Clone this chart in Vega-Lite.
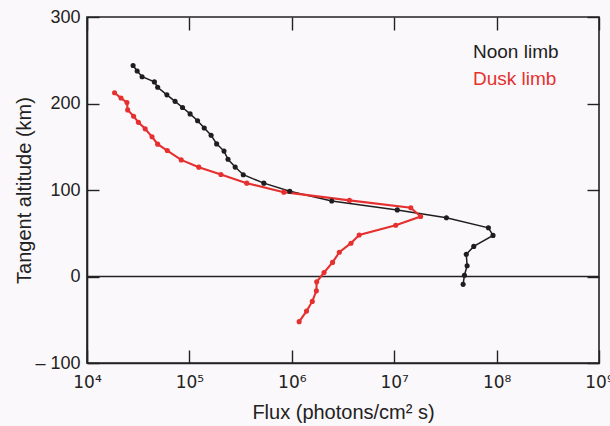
{
  "$schema": "https://vega.github.io/schema/vega-lite/v6.json",
  "width": 512,
  "height": 346,
  "autosize": {"type": "none"},
  "padding": {"left": 87, "top": 17, "right": 11, "bottom": 63},
  "background": "#fbf8fb",
  "config": {
    "view": {"stroke": "#222222", "strokeWidth": 1.6},
    "axis": {
      "domainColor": "#222222", "domainWidth": 1.6,
      "tickColor": "#222222", "tickWidth": 1.4,
      "grid": false,
      "labelFont": "Liberation Sans", "labelFontSize": 18, "labelColor": "#222222",
      "labelFlush": false, "labelOverlap": false,
      "titleFont": "Liberation Sans", "titleFontSize": 19, "titleFontWeight": "normal", "titleColor": "#222222"
    }
  },
  "datasets": {
    "profiles": [
      {"series": "Noon limb", "i": 1, "flux": 28180, "alt": 244},
      {"series": "Noon limb", "i": 2, "flux": 30900, "alt": 237.6},
      {"series": "Noon limb", "i": 3, "flux": 34510, "alt": 231},
      {"series": "Noon limb", "i": 4, "flux": 45500, "alt": 225},
      {"series": "Noon limb", "i": 5, "flux": 48980, "alt": 218.8},
      {"series": "Noon limb", "i": 6, "flux": 60260, "alt": 210},
      {"series": "Noon limb", "i": 7, "flux": 72440, "alt": 202.5},
      {"series": "Noon limb", "i": 8, "flux": 85700, "alt": 195.4},
      {"series": "Noon limb", "i": 9, "flux": 101600, "alt": 188},
      {"series": "Noon limb", "i": 10, "flux": 120200, "alt": 180},
      {"series": "Noon limb", "i": 11, "flux": 139600, "alt": 171.6},
      {"series": "Noon limb", "i": 12, "flux": 162900, "alt": 163.3},
      {"series": "Noon limb", "i": 13, "flux": 184500, "alt": 153.3},
      {"series": "Noon limb", "i": 14, "flux": 217800, "alt": 145},
      {"series": "Noon limb", "i": 15, "flux": 238200, "alt": 135.5},
      {"series": "Noon limb", "i": 16, "flux": 279900, "alt": 126.5},
      {"series": "Noon limb", "i": 17, "flux": 335700, "alt": 117.7},
      {"series": "Noon limb", "i": 18, "flux": 533300, "alt": 107.9},
      {"series": "Noon limb", "i": 19, "flux": 955000, "alt": 98.5},
      {"series": "Noon limb", "i": 20, "flux": 2455000, "alt": 87.3},
      {"series": "Noon limb", "i": 21, "flux": 10720000, "alt": 77},
      {"series": "Noon limb", "i": 22, "flux": 32360000, "alt": 68},
      {"series": "Noon limb", "i": 23, "flux": 83180000, "alt": 56.3},
      {"series": "Noon limb", "i": 24, "flux": 92260000, "alt": 47.5},
      {"series": "Noon limb", "i": 25, "flux": 59840000, "alt": 34.8},
      {"series": "Noon limb", "i": 26, "flux": 50580000, "alt": 25.6},
      {"series": "Noon limb", "i": 27, "flux": 51520000, "alt": 12.5},
      {"series": "Noon limb", "i": 28, "flux": 48530000, "alt": 1.5},
      {"series": "Noon limb", "i": 29, "flux": 47100000, "alt": -9.1},
      {"series": "Dusk limb", "i": 1, "flux": 18580, "alt": 212.5},
      {"series": "Dusk limb", "i": 2, "flux": 21480, "alt": 206.3},
      {"series": "Dusk limb", "i": 3, "flux": 24550, "alt": 201.2},
      {"series": "Dusk limb", "i": 4, "flux": 24950, "alt": 192.6},
      {"series": "Dusk limb", "i": 5, "flux": 28510, "alt": 185.2},
      {"series": "Dusk limb", "i": 6, "flux": 31770, "alt": 178.2},
      {"series": "Dusk limb", "i": 7, "flux": 36980, "alt": 170.7},
      {"series": "Dusk limb", "i": 8, "flux": 43150, "alt": 161.5},
      {"series": "Dusk limb", "i": 9, "flux": 48980, "alt": 153},
      {"series": "Dusk limb", "i": 10, "flux": 60810, "alt": 145.6},
      {"series": "Dusk limb", "i": 11, "flux": 83180, "alt": 134.8},
      {"series": "Dusk limb", "i": 12, "flux": 123600, "alt": 126.4},
      {"series": "Dusk limb", "i": 13, "flux": 203200, "alt": 118},
      {"series": "Dusk limb", "i": 14, "flux": 363100, "alt": 107.9},
      {"series": "Dusk limb", "i": 15, "flux": 835600, "alt": 97.5},
      {"series": "Dusk limb", "i": 16, "flux": 3656000, "alt": 88},
      {"series": "Dusk limb", "i": 17, "flux": 14520000, "alt": 79.5},
      {"series": "Dusk limb", "i": 18, "flux": 18110000, "alt": 69.3},
      {"series": "Dusk limb", "i": 19, "flux": 10350000, "alt": 59.2},
      {"series": "Dusk limb", "i": 20, "flux": 4550000, "alt": 48},
      {"series": "Dusk limb", "i": 21, "flux": 3784000, "alt": 38.5},
      {"series": "Dusk limb", "i": 22, "flux": 2911000, "alt": 28},
      {"series": "Dusk limb", "i": 23, "flux": 2500000, "alt": 16.3},
      {"series": "Dusk limb", "i": 24, "flux": 2065000, "alt": 4.6},
      {"series": "Dusk limb", "i": 25, "flux": 1750000, "alt": -6.2},
      {"series": "Dusk limb", "i": 26, "flux": 1738000, "alt": -16.6},
      {"series": "Dusk limb", "i": 27, "flux": 1585000, "alt": -28.8},
      {"series": "Dusk limb", "i": 28, "flux": 1393000, "alt": -40},
      {"series": "Dusk limb", "i": 29, "flux": 1180000, "alt": -52.2}
    ],
    "zero": [{"alt": 0}]
  },
  "layer": [
    {
      "data": {"name": "zero"},
      "mark": {"type": "rule", "color": "#222222", "strokeWidth": 1.4},
      "encoding": {
        "y": {"field": "alt", "type": "quantitative", "scale": {"domain": [-100, 300], "nice": false}, "axis": null}
      }
    },
    {
      "data": {"name": "profiles"},
      "mark": {"type": "line", "point": {"filled": true, "size": 26}},
      "encoding": {
        "x": {
          "field": "flux", "type": "quantitative",
          "scale": {"type": "log", "domain": [10000, 1000000000], "nice": false},
          "axis": {
            "orient": "bottom",
            "values": [10000, 100000, 1000000, 10000000, 100000000, 1000000000],
            "tickSize": -13, "labelPadding": 24,
            "labelFont": "DejaVu Sans", "labelFontSize": 17,
            "labelExpr": "'10' + ['⁰','¹','²','³','⁴','⁵','⁶','⁷','⁸','⁹'][round(log(datum.value)/LN10)]",
            "title": "Flux (photons/cm² s)", "titlePadding": 12, "titleFontSize": 20
          }
        },
        "y": {
          "field": "alt", "type": "quantitative",
          "scale": {"domain": [-100, 300], "nice": false},
          "axis": {
            "orient": "left",
            "values": [-100, 0, 100, 200, 300],
            "tickSize": -12, "labelPadding": 19,
            "labelExpr": "datum.value < 0 ? '– ' + abs(datum.value) : datum.label",
            "title": "Tangent altitude (km)", "titlePadding": 0, "titleFontSize": 20
          }
        },
        "color": {
          "field": "series", "type": "nominal",
          "scale": {"domain": ["Noon limb", "Dusk limb"], "range": ["#1e1e1e", "#e5302f"]},
          "legend": {
            "orient": "none", "legendX": 367, "legendY": 25,
            "title": null, "symbolSize": 0, "symbolOpacity": 0, "symbolStrokeWidth": 0,
            "labelOffset": 0, "labelFont": "Liberation Sans", "labelFontSize": 19, "rowPadding": 7,
            "labelLimit": 200,
            "encode": {"labels": {"update": {"fill": {"signal": "scale('color', datum.value)"}}}}
          }
        },
        "strokeWidth": {
          "field": "series", "type": "nominal",
          "scale": {"domain": ["Noon limb", "Dusk limb"], "range": [1.5, 2.1]},
          "legend": null
        },
        "order": {"field": "i"}
      }
    },
    {
      "data": {"name": "profiles"},
      "mark": {"type": "point", "opacity": 0},
      "encoding": {
        "x": {
          "field": "flux", "type": "quantitative",
          "axis": {"orient": "top", "labels": false, "title": null, "domain": false,
                   "values": [10000, 100000, 1000000, 10000000, 100000000, 1000000000], "tickSize": -13}
        },
        "y": {
          "field": "alt", "type": "quantitative",
          "axis": {"orient": "right", "labels": false, "title": null, "domain": false,
                   "values": [-100, 0, 100, 200, 300], "tickSize": -12}
        }
      }
    }
  ],
  "resolve": {"axis": {"x": "independent", "y": "independent"}}
}
